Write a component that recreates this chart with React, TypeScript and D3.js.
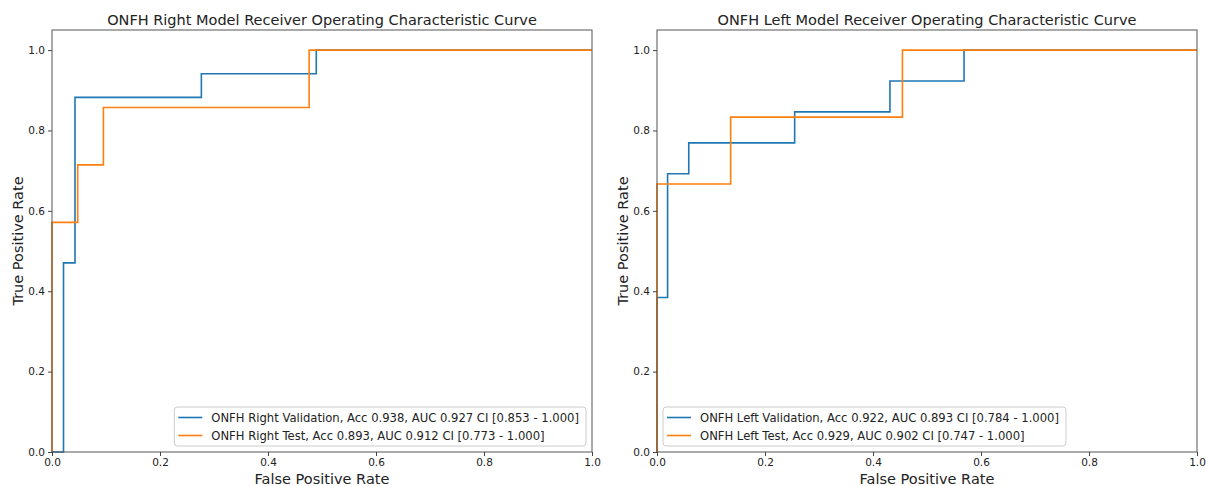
import React, { useRef, useEffect } from "react";
import * as d3 from "d3";

// ROC step points (fpr, tpr)
const rightValFpr = [0, 0, 0.0213, 0.0213, 0.0426, 0.0426, 0.2766, 0.2766, 0.4894, 0.4894, 1];
const rightValTpr = [0, 0, 0, 0.4706, 0.4706, 0.8824, 0.8824, 0.9412, 0.9412, 1, 1];
const rightTestFpr = [0, 0, 0.0476, 0.0476, 0.0952, 0.0952, 0.4762, 0.4762, 1];
const rightTestTpr = [0, 0.5714, 0.5714, 0.7143, 0.7143, 0.8571, 0.8571, 1, 1];

const leftValFpr = [0, 0, 0.0196, 0.0196, 0.0588, 0.0588, 0.2549, 0.2549, 0.4314, 0.4314, 0.5686, 0.5686, 1];
const leftValTpr = [0, 0.3846, 0.3846, 0.6923, 0.6923, 0.7692, 0.7692, 0.8462, 0.8462, 0.9231, 0.9231, 1, 1];
const leftTestFpr = [0, 0, 0.1364, 0.1364, 0.4545, 0.4545, 1];
const leftTestTpr = [0, 0.6667, 0.6667, 0.8333, 0.8333, 1, 1];

const ticks = [0, 0.2, 0.4, 0.6, 0.8, 1.0];

const panels = [
  {
    title: "ONFH Right Model Receiver Operating Characteristic Curve",
    left: 52,
    legendLoc: "right",
    series: [
      { name: "ONFH Right Validation, Acc 0.938, AUC 0.927 CI [0.853 - 1.000]", fpr: rightValFpr, tpr: rightValTpr, color: "#1f77b4" },
      { name: "ONFH Right Test, Acc 0.893, AUC 0.912 CI [0.773 - 1.000]", fpr: rightTestFpr, tpr: rightTestTpr, color: "#ff7f0e" }
    ]
  },
  {
    title: "ONFH Left Model Receiver Operating Characteristic Curve",
    left: 657,
    legendLoc: "left",
    series: [
      { name: "ONFH Left Validation, Acc 0.922, AUC 0.893 CI [0.784 - 1.000]", fpr: leftValFpr, tpr: leftValTpr, color: "#1f77b4" },
      { name: "ONFH Left Test, Acc 0.929, AUC 0.902 CI [0.747 - 1.000]", fpr: leftTestFpr, tpr: leftTestTpr, color: "#ff7f0e" }
    ]
  }
];

function App() {
  const ref = useRef<SVGSVGElement>(null);
  const w = 1206,
    h = 486;
  const top = 30,
    bottom = 452,
    pw = 540;

  useEffect(() => {
    const svg = d3.select(ref.current);
    svg.selectAll("*").remove();
    const font = "DejaVu Sans, sans-serif";

    panels.forEach(p => {
      const x = d3.scaleLinear().domain([0, 1]).range([p.left, p.left + pw]);
      const y = d3.scaleLinear().domain([0, 1.05]).range([bottom, top]);
      const g = svg.append("g");

      // curves
      p.series.forEach(s => {
        const pts: [number, number][] = s.fpr.map((f, i) => [f, s.tpr[i]]);
        const ln = d3
          .line<[number, number]>()
          .x(d => x(d[0]))
          .y(d => y(d[1]));
        g.append("path")
          .attr("d", ln(pts))
          .attr("fill", "none")
          .attr("stroke", s.color)
          .attr("stroke-width", 1.6);
      });

      // spines
      g.append("rect")
        .attr("x", p.left)
        .attr("y", top)
        .attr("width", pw)
        .attr("height", bottom - top)
        .attr("fill", "none")
        .attr("stroke", "#555")
        .attr("stroke-width", 1);

      // x axis
      const xAxis = d3
        .axisBottom(x)
        .tickValues(ticks)
        .tickFormat(d3.format(".1f"))
        .tickSize(4)
        .tickPadding(3);
      g.append("g")
        .attr("transform", `translate(0,${bottom})`)
        .call(xAxis)
        .call(a => a.select(".domain").remove())
        .call(a =>
          a.selectAll("text").attr("font-family", font).attr("font-size", 10.5).attr("fill", "#222")
        )
        .call(a => a.selectAll("line").attr("stroke", "#444"));

      const yAxis = d3
        .axisLeft(y)
        .tickValues(ticks)
        .tickFormat(d3.format(".1f"))
        .tickSize(4)
        .tickPadding(3);
      g.append("g")
        .attr("transform", `translate(${p.left},0)`)
        .call(yAxis)
        .call(a => a.select(".domain").remove())
        .call(a =>
          a.selectAll("text").attr("font-family", font).attr("font-size", 10.5).attr("fill", "#222")
        )
        .call(a => a.selectAll("line").attr("stroke", "#444"));

      // title and labels
      g.append("text")
        .attr("x", p.left + pw / 2)
        .attr("y", 25)
        .attr("text-anchor", "middle")
        .attr("font-family", font)
        .attr("font-size", 14.5)
        .attr("fill", "#222")
        .text(p.title);
      g.append("text")
        .attr("x", p.left + pw / 2)
        .attr("y", 484)
        .attr("text-anchor", "middle")
        .attr("font-family", font)
        .attr("font-size", 14.5)
        .attr("fill", "#222")
        .text("False Positive Rate");
      g.append("text")
        .attr("transform", `translate(${p.left - 29},${(top + bottom) / 2}) rotate(-90)`)
        .attr("text-anchor", "middle")
        .attr("font-family", font)
        .attr("font-size", 14.5)
        .attr("fill", "#222")
        .text("True Positive Rate");

      // legend
      const lg = g.append("g");
      const box = lg
        .append("rect")
        .attr("y", 407)
        .attr("height", 39)
        .attr("rx", 3)
        .attr("fill", "white")
        .attr("fill-opacity", 0.8)
        .attr("stroke", "#ccc")
        .attr("stroke-width", 1);
      const texts = p.series.map((s, i) =>
        lg
          .append("text")
          .attr("y", 421.5 + i * 18)
          .attr("font-family", font)
          .attr("font-size", 11.6)
          .attr("fill", "#222")
          .text(s.name)
      );
      const maxW = d3.max(texts, t => (t.node() as SVGTextElement).getComputedTextLength()) || 0;
      const bw = maxW + 44;
      const bx = p.legendLoc === "right" ? p.left + pw - 6 - bw : p.left + 6;
      box.attr("x", bx).attr("width", bw);
      texts.forEach(t => t.attr("x", bx + 37));
      p.series.forEach((s, i) => {
        lg.append("line")
          .attr("x1", bx + 4)
          .attr("x2", bx + 28)
          .attr("y1", 417.5 + i * 18)
          .attr("y2", 417.5 + i * 18)
          .attr("stroke", s.color)
          .attr("stroke-width", 1.6);
      });
    });
  }, []);

  return (
    <svg
      ref={ref}
      width={w}
      height={h}
      style={{ position: "absolute", left: 0, top: 0, background: "white" }}
    />
  );
}

export default App;
